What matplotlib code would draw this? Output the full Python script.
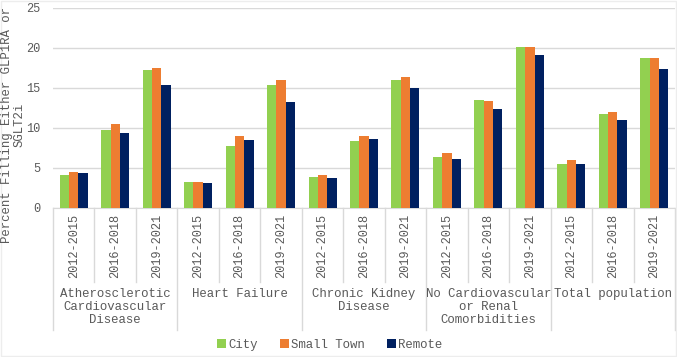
import numpy as np
import matplotlib
matplotlib.use("Agg")
import matplotlib.pyplot as plt
import matplotlib.transforms as mtransforms

# === Data ===
groups = ["Atherosclerotic\nCardiovascular\nDisease", "Heart Failure",
          "Chronic Kidney\nDisease", "No Cardiovascular\nor Renal\nComorbidities",
          "Total population"]
periods = ["2012-2015", "2016-2018", "2019-2021"]
series_names = ["City", "Small Town", "Remote"]

city = [4.1, 9.8, 17.3, 3.2, 7.7, 15.4, 3.9, 8.4, 16.0, 6.4, 13.5, 20.1, 5.5, 11.8, 18.8]
small_town = [4.5, 10.5, 17.5, 3.3, 9.0, 16.0, 4.1, 9.0, 16.4, 6.9, 13.4, 20.1, 6.0, 12.0, 18.8]
remote = [4.4, 9.4, 15.4, 3.1, 8.5, 13.3, 3.8, 8.6, 15.0, 6.1, 12.4, 19.1, 5.5, 11.0, 17.4]

colors = ["#92D050", "#ED7D31", "#002060"]
text_color = "#595959"
line_color = "#D9D9D9"

plt.rcParams["font.family"] = ["Liberation Mono", "DejaVu Sans Mono"]
plt.rcParams["font.size"] = 8.6

fig = plt.figure(figsize=(6.77, 3.57), dpi=100)
ax = fig.add_axes([53 / 677, 1 - 208 / 357, 622 / 677, 200 / 357])

n = len(city)
x = np.arange(n)
width = 0.225
for i, (vals, name) in enumerate(zip([city, small_town, remote], series_names)):
    ax.bar(x + (i - 1) * width, vals, width, color=colors[i], label=name, zorder=3)

ax.set_xlim(-0.5, n - 0.5)
ax.set_ylim(0, 25)
ax.set_yticks(np.arange(0, 26, 5))
ax.yaxis.grid(True, color=line_color, linewidth=1, zorder=0)
ax.tick_params(axis="y", length=0, pad=9, colors=text_color)
ax.tick_params(axis="x", length=0)
ax.set_xticks([])
for side in ["top", "right", "left"]:
    ax.spines[side].set_visible(False)
ax.spines["bottom"].set_color(line_color)

# --- multi-level category axis ---
trans = mtransforms.blended_transform_factory(ax.transData, ax.transAxes)
inner_bottom = -74 / 200
outer_bottom = -122 / 200
for k in range(n):
    ax.text(k, -0.03, periods[k % 3], rotation=90, ha="center", va="top",
            color=text_color, transform=trans)
for b in range(n + 1):
    bottom = outer_bottom if b % 3 == 0 else inner_bottom
    ax.plot([b - 0.5, b - 0.5], [0, bottom], color=line_color, linewidth=1,
            transform=trans, clip_on=False)
for g, label in enumerate(groups):
    ax.text(3 * g + 1, -0.40, label, ha="center", va="top", color=text_color,
            linespacing=1.1, fontsize=8.9, transform=trans)

fig.text(13.5 / 677, 1 - 125 / 357, "Percent Filling Either GLP1RA or\nSGLT2i",
         rotation=90, ha="center", va="center", color=text_color,
         fontsize=8.9, linespacing=1.05)

leg = fig.legend(loc="center", bbox_to_anchor=(330 / 677, 1 - 345 / 357), ncol=3,
                 frameon=False, handlelength=0.7, handleheight=0.7,
                 handletextpad=0.2, columnspacing=1.8, fontsize=8.9)
for t in leg.get_texts():
    t.set_color(text_color)

# faint chart-area border
fig.patches.append(plt.Rectangle((0.001, 0.003), 0.998, 0.995, transform=fig.transFigure,
                                 fill=False, edgecolor="#EDEDED", linewidth=1))

fig.savefig("out.png", dpi=100)
